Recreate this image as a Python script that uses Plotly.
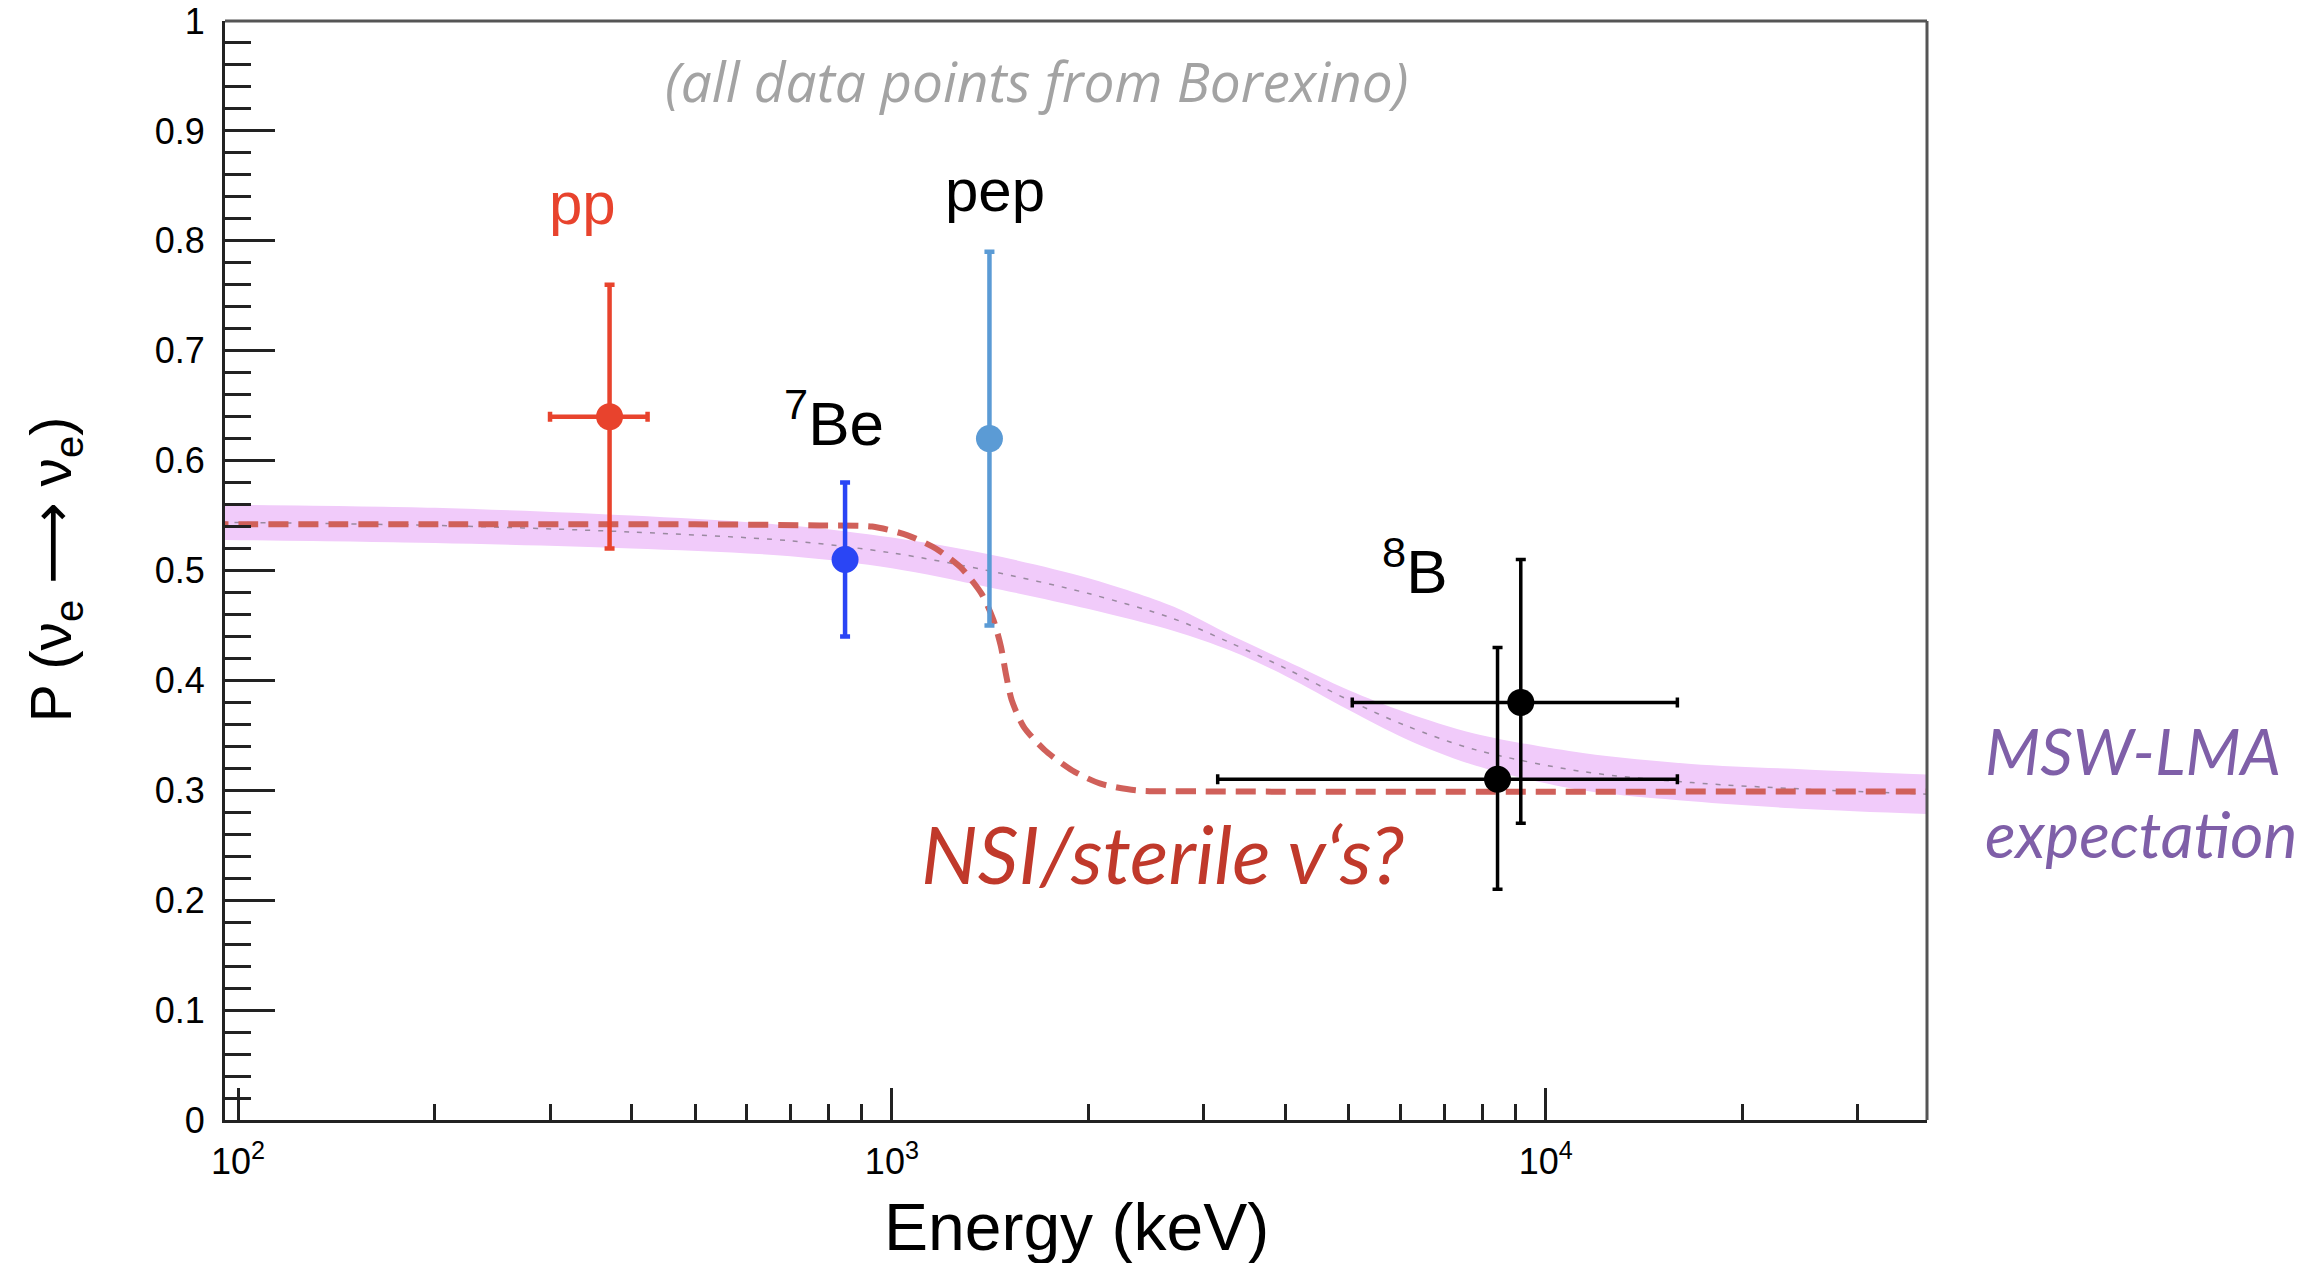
import numpy as np
import plotly.graph_objects as go

# --- Borexino survival-probability measurements ---------------------------
source_names = ["pp", "7Be", "pep", "8B (low)", "8B (high)"]
point_energy = [370, 848, 1410, 8440, 9160]          # keV
point_prob = [0.64, 0.51, 0.62, 0.31, 0.38]
prob_err_plus = [0.12, 0.07, 0.17, 0.12, 0.13]
prob_err_minus = [0.12, 0.07, 0.17, 0.10, 0.11]
energy_err_minus = [70, 0, 0, 5290, 4100]
energy_err_plus = [53, 0, 0, 7460, 6740]
point_colors = ["#e8432d", "#2a45f5", "#5b9bd5", "#000000", "#000000"]

# --- MSW-LMA expectation band ---------------------------------------------
msw_energy = [90, 200, 400, 700, 1000, 1400, 2000, 2700, 3300, 4000,
              5000, 6100, 7800, 11400, 16700, 25000, 40000]
msw_center = [0.544, 0.541, 0.535, 0.527, 0.516, 0.500, 0.479, 0.456, 0.434, 0.411,
              0.382, 0.359, 0.337, 0.317, 0.307, 0.301, 0.296]
msw_halfwidth = [0.016, 0.016, 0.015, 0.014, 0.014, 0.015, 0.014, 0.011, 0.007, 0.007,
                 0.009, 0.012, 0.0145, 0.017, 0.017, 0.018, 0.018]

# --- NSI / sterile-neutrino scenario --------------------------------------
nsi_energy = [90, 500, 776, 933, 1057, 1167, 1273, 1371, 1430, 1468,
              1494, 1525, 1590, 1710, 1888, 2085, 2360, 3000, 40000]
nsi_prob = [0.542, 0.542, 0.541, 0.540, 0.532, 0.520, 0.503, 0.479, 0.455, 0.431,
            0.406, 0.382, 0.358, 0.337, 0.318, 0.306, 0.300, 0.299, 0.299]

# --- axis ticks -------------------------------------------------------------
x_major = [100, 1000, 10000]
x_major_text = ["10<sup>2</sup>", "10<sup>3</sup>", "10<sup>4</sup>"]
x_minor = [m * d for d in (100, 1000, 10000) for m in range(2, 10)]

AXIS = "#222222"
FRAME = "#555555"
SANS = "Liberation Sans"

fig = go.Figure()

msw_lo = [c - h for c, h in zip(msw_center, msw_halfwidth)]
msw_hi = [c + h for c, h in zip(msw_center, msw_halfwidth)]

fig.add_trace(go.Scatter(x=msw_energy, y=msw_lo, mode="lines",
                         line=dict(width=0, shape="spline", smoothing=0.9),
                         hoverinfo="skip"))
fig.add_trace(go.Scatter(x=msw_energy, y=msw_hi, mode="lines", fill="tonexty",
                         fillcolor="#f1cbfa",
                         line=dict(width=0, shape="spline", smoothing=0.9),
                         hoverinfo="skip"))
fig.add_trace(go.Scatter(x=msw_energy, y=msw_center, mode="lines",
                         line=dict(color="#9a8aa0", width=1.5, dash="5px,8px",
                                   shape="spline", smoothing=0.9)))

fig.add_trace(go.Scatter(x=nsi_energy, y=nsi_prob, mode="lines",
                         line=dict(color="#d0605a", width=6, dash="20px,10px",
                                   shape="spline", smoothing=0.7)))

for i, name in enumerate(source_names):
    col = point_colors[i]
    thick = 3.5 if col == "#000000" else 4.5
    has_xerr = energy_err_plus[i] > 0
    fig.add_trace(go.Scatter(
        x=[point_energy[i]], y=[point_prob[i]], mode="markers", name=name,
        marker=dict(color=col, size=27),
        error_y=dict(type="data", symmetric=False,
                     array=[prob_err_plus[i]], arrayminus=[prob_err_minus[i]],
                     color=col, thickness=thick, width=5),
        error_x=dict(type="data", symmetric=False,
                     array=[energy_err_plus[i]], arrayminus=[energy_err_minus[i]],
                     color=col, thickness=thick, width=5, visible=has_xerr),
    ))

lg = np.log10
annotations = [
    dict(x=lg(336), y=0.834, text="pp", font=dict(family=SANS, size=60, color="#e8432d")),
    dict(x=lg(1439), y=0.846, text="pep", font=dict(family=SANS, size=60, color="black")),
    dict(x=lg(815), y=0.638, text="<sup>7</sup>Be", font=dict(family=SANS, size=62, color="black")),
    dict(x=lg(6300), y=0.503, text="<sup>8</sup>B", font=dict(family=SANS, size=62, color="black")),
    dict(x=lg(1667), y=0.946, text="<i>(all data points from Borexino)</i>",
         font=dict(family="Open Sans", size=55, color="#a3a3a3")),
    dict(x=lg(2594), y=0.243, text="<i>NSI/sterile v‘s?</i>",
         font=dict(family="Lato", size=80, color="#c0392b")),
    dict(xref="paper", yref="paper", x=1.033, y=0.298, xanchor="left",
         text="<i>MSW-LMA<br>expectation</i>", align="left",
         font=dict(family="Lato", size=64, color="#7f5fa8")),
    dict(xref="paper", yref="paper", x=0.5, y=-0.097, text="Energy (keV)",
         font=dict(family=SANS, size=66, color="black")),
    dict(xref="paper", yref="paper", x=-0.0999, y=0.501, textangle=-90,
         text="P (ν<sub>e</sub> ⟶ ν<sub>e</sub>)",
         font=dict(family=SANS + ", DejaVu Sans", size=57, color="black")),
]
for a in annotations:
    a.setdefault("xref", "x")
    a.setdefault("yref", "y")
    a.setdefault("xanchor", "center")
    a.setdefault("yanchor", "middle")
    a["showarrow"] = False

# frame: top and right edges in a softer grey than the tick axes
shapes = [
    dict(type="line", xref="paper", yref="paper", x0=0, x1=1, y0=1, y1=1,
         line=dict(color=FRAME, width=3)),
    dict(type="line", xref="paper", yref="paper", x0=1, x1=1, y0=0, y1=1,
         line=dict(color=FRAME, width=3)),
]

fig.update_layout(
    width=2323, height=1263,
    margin=dict(l=225, r=396, t=21, b=143, autoexpand=False),
    plot_bgcolor="white", paper_bgcolor="white",
    showlegend=False,
    annotations=annotations,
    shapes=shapes,
    xaxis=dict(
        type="log", range=[lg(95.5), lg(38300)], automargin=False,
        tickmode="array", tickvals=x_major, ticktext=x_major_text,
        ticks="inside", ticklen=32, tickwidth=2.5, tickcolor=AXIS,
        showline=True, linecolor=AXIS, linewidth=3, mirror=False,
        showgrid=False, zeroline=False, ticklabelstandoff=8,
        tickfont=dict(family=SANS, size=36, color="black"),
        minor=dict(tickmode="array", tickvals=x_minor, ticks="inside",
                   ticklen=16, tickwidth=2.5, tickcolor=AXIS, showgrid=False),
    ),
    yaxis=dict(
        range=[0, 1], tickmode="linear", tick0=0, dtick=0.1, automargin=False,
        ticks="inside", ticklen=50, tickwidth=2.5, tickcolor=AXIS,
        showline=True, linecolor=AXIS, linewidth=3, mirror=False,
        showgrid=False, zeroline=False, ticklabelstandoff=10,
        tickfont=dict(family=SANS, size=36, color="black"),
        minor=dict(tick0=0, dtick=0.02, ticks="inside", ticklen=26,
                   tickwidth=2.5, tickcolor=AXIS, showgrid=False),
    ),
)

fig.write_html("out.html")
